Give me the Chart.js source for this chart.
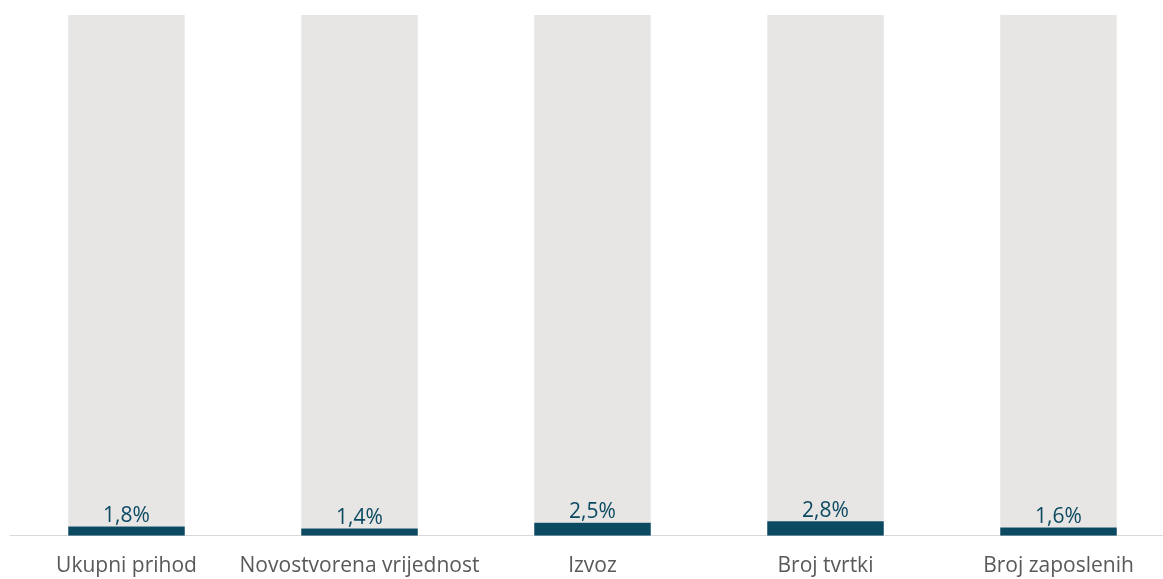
<!DOCTYPE html>
<html lang="hr">
<head>
    <meta charset="UTF-8">
    <title>Udio u gospodarstvu</title>
    <script src="https://cdn.jsdelivr.net/npm/chart.js"></script>
    <style>
        html, body {
            margin: 0;
            padding: 0;
            background: #ffffff;
            overflow: hidden;
        }
        #wrap {
            width: 1163px;
            height: 579px;
            overflow: hidden;
        }
    </style>
</head>
<body>
    <div id="wrap">
        <canvas id="udio" width="1176" height="589"></canvas>
    </div>

    <script>
        // podaci
        const kategorije = ['Ukupni prihod', 'Novostvorena vrijednost', 'Izvoz', 'Broj tvrtki', 'Broj zaposlenih'];
        const udio = [1.8, 1.4, 2.5, 2.8, 1.6];
        const ostatak = [98.2, 98.6, 97.5, 97.2, 98.4];

        const tamna = '#0c4a62';
        const siva = '#e7e6e5';

        // oznake vrijednosti iznad tamnog dijela stupca
        const oznake = {
            id: 'oznake',
            afterDatasetsDraw(chart) {
                const ctx = chart.ctx;
                const meta = chart.getDatasetMeta(0);
                ctx.save();
                ctx.font = '21px "Open Sans", sans-serif';
                ctx.fillStyle = tamna;
                ctx.textAlign = 'center';
                ctx.textBaseline = 'bottom';
                meta.data.forEach((bar, i) => {
                    ctx.fillText(udio[i].toFixed(1).replace('.', ',') + '%', bar.x, bar.y);
                });
                ctx.restore();
            }
        };

        new Chart(document.getElementById('udio').getContext('2d'), {
            type: 'bar',
            data: {
                labels: kategorije,
                datasets: [{
                    label: 'Udio',
                    data: udio,
                    backgroundColor: tamna,
                    barPercentage: 0.5,
                    categoryPercentage: 1.0
                },
                {
                    label: 'Ostalo',
                    data: ostatak,
                    backgroundColor: siva,
                    barPercentage: 0.5,
                    categoryPercentage: 1.0
                }]
            },
            options: {
                responsive: false,
                animation: false,
                layout: {
                    padding: { top: 15, left: 10, right: 1, bottom: 0 }
                },
                plugins: {
                    legend: { display: false },
                    tooltip: { enabled: false }
                },
                scales: {
                    x: {
                        stacked: true,
                        grid: { display: false },
                        border: { display: true, color: '#d9d9d9', width: 1 },
                        ticks: {
                            color: '#595959',
                            padding: 10,
                            maxRotation: 0,
                            minRotation: 0,
                            autoSkip: false,
                            font: { family: '"Open Sans", sans-serif', size: 21 }
                        }
                    },
                    y: {
                        stacked: true,
                        display: false,
                        min: 0,
                        max: 100
                    }
                }
            },
            plugins: [oznake]
        });
    </script>
</body>
</html>
